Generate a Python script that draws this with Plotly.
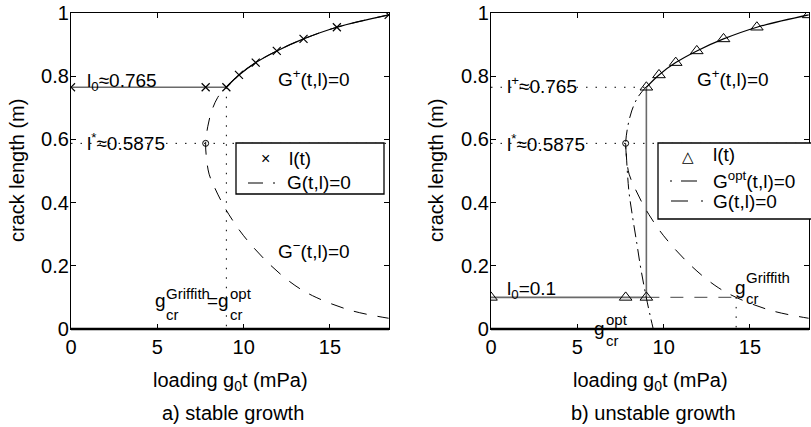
import plotly.graph_objects as go

# ---------------- data ----------------
# G(t,l)=0 curve, listed from top-right, through the leftmost point l*, to bottom-right
G_t = [18.4, 15.4, 13.47, 11.92, 10.7, 9.73, 9.0, 8.5, 8.15, 7.92, 7.80, 7.85, 8.0, 8.3, 8.7, 9.15, 10.0, 11.5, 12.97, 14.2, 16.26, 18.4]
G_l = [0.994, 0.955, 0.918, 0.880, 0.843, 0.804, 0.767, 0.733, 0.69, 0.64, 0.5875, 0.54, 0.49, 0.45, 0.405, 0.362, 0.295, 0.205, 0.138, 0.1, 0.058, 0.034]

# G^opt(t,l)=0 lower branch (panel b)
Gopt_t = [7.80, 7.84, 7.92, 8.0, 8.2, 8.45, 8.65, 8.85, 9.05, 9.25, 9.4]
Gopt_l = [0.5875, 0.55, 0.48, 0.43, 0.355, 0.27, 0.2, 0.14, 0.085, 0.035, 0.0]

# l(t) markers
la_t = [0, 7.8, 9.0, 9.73, 10.7, 11.92, 13.47, 15.4, 18.4]
la_l = [0.765, 0.765, 0.765, 0.804, 0.843, 0.880, 0.918, 0.955, 0.994]
lb_t = [0, 7.8, 9.0, 9.0, 9.73, 10.7, 11.92, 13.47, 15.4, 18.4]
lb_l = [0.1, 0.1, 0.1, 0.765, 0.804, 0.843, 0.880, 0.918, 0.955, 0.994]

l_star = 0.5875
t_star = 7.8
l_plus = 0.765
l0_b = 0.1
t_cr = 9.0
t_griffith_b = 14.2
T_MAX = 18.42

x_ticks = [0, 5, 10, 15]
y_ticks = [0, 0.2, 0.4, 0.6, 0.8, 1]
y_ticklabels = ["0", "0.2", "0.4", "0.6", "0.8", "1"]

FONT = "Liberation Sans, Arial, Helvetica, sans-serif"
FS = 19
FS_AX = 20
W, H = 811, 427
GRAY = "#6a6a6a"
DOT = "1.5px,8px"
DASH = "13px,11px"
DASHDOT = "12px,5px,2px,5px"

fig = go.Figure()

def add(tr, panel):
    if panel == "a":
        tr.update(xaxis="x", yaxis="y")
    else:
        tr.update(xaxis="x2", yaxis="y2")
    tr.update(showlegend=False)
    fig.add_trace(tr)

# ---------------- panel a ----------------
add(go.Scatter(x=[0, T_MAX], y=[l_star, l_star], mode="lines",
               line=dict(color="black", width=1, dash=DOT)), "a")
add(go.Scatter(x=[t_cr, t_cr], y=[l_plus, 0], mode="lines",
               line=dict(color="black", width=1, dash=DOT)), "a")
add(go.Scatter(x=la_t[:3], y=la_l[:3], mode="lines",
               line=dict(color=GRAY, width=1.6)), "a")
add(go.Scatter(x=la_t[2:], y=la_l[2:], mode="lines", line_shape="spline",
               line=dict(color="black", width=1.2)), "a")
add(go.Scatter(x=la_t, y=la_l, mode="markers", name="l(t)",
               marker=dict(symbol="x-thin-open", size=8, color="black",
                           line=dict(color="black", width=1.2))), "a")
add(go.Scatter(x=G_t, y=G_l, mode="lines", line_shape="spline", name="G(t,l)=0",
               line=dict(color="black", width=1, dash=DASH)), "a")
add(go.Scatter(x=[t_star], y=[l_star], mode="markers",
               marker=dict(symbol="circle-open", size=6, color="black",
                           line=dict(color="black", width=1))), "a")

# ---------------- panel b ----------------
add(go.Scatter(x=[0, T_MAX], y=[l_star, l_star], mode="lines",
               line=dict(color="black", width=1, dash=DOT)), "b")
add(go.Scatter(x=[0, t_cr], y=[l_plus, l_plus], mode="lines",
               line=dict(color="black", width=1, dash=DOT)), "b")
add(go.Scatter(x=[t_griffith_b, t_griffith_b], y=[l0_b, 0], mode="lines",
               line=dict(color="black", width=1, dash=DOT)), "b")
add(go.Scatter(x=[t_cr, t_griffith_b], y=[l0_b, l0_b], mode="lines",
               line=dict(color=GRAY, width=1.4, dash=DASH)), "b")
add(go.Scatter(x=lb_t[:4], y=lb_l[:4], mode="lines",
               line=dict(color=GRAY, width=1.6)), "b")
add(go.Scatter(x=lb_t[3:], y=lb_l[3:], mode="lines", line_shape="spline",
               line=dict(color="black", width=1.2)), "b")
add(go.Scatter(x=lb_t, y=lb_l, mode="markers", name="l(t)",
               marker=dict(symbol="triangle-up-open", size=11, color="black",
                           line=dict(color="black", width=1))), "b")
# G^opt: upper part of G between l+ and l*, then the optimal branch
up_t = [t for t, l in zip(G_t, G_l) if l_star < l <= l_plus + 0.005]
up_l = [l for l in G_l if l_star < l <= l_plus + 0.005]
add(go.Scatter(x=up_t + Gopt_t, y=up_l + Gopt_l, mode="lines", line_shape="spline",
               name="G<sup>opt</sup>(t,l)=0",
               line=dict(color="black", width=1, dash=DASHDOT)), "b")
lo_t = [t for t, l in zip(G_t, G_l) if l <= l_star]
lo_l = [l for l in G_l if l <= l_star]
add(go.Scatter(x=lo_t, y=lo_l, mode="lines", line_shape="spline", name="G(t,l)=0",
               line=dict(color="black", width=1, dash=DASH)), "b")
add(go.Scatter(x=[t_star], y=[l_star], mode="markers",
               marker=dict(symbol="circle-open", size=6, color="black",
                           line=dict(color="black", width=1))), "b")

# ---------------- axes ----------------
def px2x(px):
    return px / W

def py2y(py):
    return 1 - py / H

ydom = [py2y(329), py2y(13)]
xdom_a = [px2x(71), px2x(389)]
xdom_b = [px2x(491), px2x(809)]

axcommon = dict(showgrid=False, zeroline=False, showline=True, linecolor="black",
                linewidth=1.3, mirror="ticks", ticks="inside", ticklen=5,
                tickcolor="black", tickwidth=1, automargin=False,
                tickfont=dict(family=FONT, size=FS_AX, color="black"))
fig.update_layout(
    xaxis=dict(domain=xdom_a, range=[0, T_MAX], tickvals=x_ticks, anchor="y", **axcommon),
    yaxis=dict(domain=ydom, range=[0, 1], tickvals=y_ticks, ticktext=y_ticklabels,
               anchor="x", ticklabelstandoff=-3, **axcommon),
    xaxis2=dict(domain=xdom_b, range=[0, T_MAX], tickvals=x_ticks, anchor="y2", **axcommon),
    yaxis2=dict(domain=ydom, range=[0, 1], tickvals=y_ticks, ticktext=y_ticklabels,
                anchor="x2", ticklabelstandoff=-3, **axcommon),
)

shapes = []
# thicker bottom axis lines (as in the reference)
for dom in (xdom_a, xdom_b):
    shapes.append(dict(type="line", xref="paper", yref="paper", x0=dom[0], x1=dom[1],
                       y0=ydom[0], y1=ydom[0], line=dict(color="black", width=2.5)))

ann = []

def T(text, px, py, size=FS, xanchor="left", angle=0, family=FONT):
    ann.append(dict(text=text, x=px2x(px), y=py2y(py), xref="paper", yref="paper",
                    xanchor=xanchor, yanchor="middle", showarrow=False, textangle=angle,
                    borderpad=0,
                    font=dict(family=family, size=size, color="black")))

# ---------------- legends (boxes with sample glyphs) ----------------
def legend_box(x0, y0, x1, y1):
    shapes.append(dict(type="rect", xref="paper", yref="paper",
                       x0=px2x(x0), x1=px2x(x1), y0=py2y(y0), y1=py2y(y1),
                       fillcolor="white", line=dict(color="black", width=1.3), layer="above"))

def legend_line(x0, x1, y, dash):
    shapes.append(dict(type="line", xref="paper", yref="paper",
                       x0=px2x(x0), x1=px2x(x1), y0=py2y(y), y1=py2y(y),
                       line=dict(color="black", width=1.2, dash=dash), layer="above"))

# panel a legend
legend_box(236, 143, 384, 194)
T("×", 265, 158, 16, xanchor="center")
T("l(t)", 288, 158)
legend_line(248, 275, 183, "15px,10px,2px")
T("G(t,l)=0", 286, 182)
# panel b legend (runs past the right edge, as in the reference)
legend_box(658, 143, 830, 219)
T("△", 688, 157, 15, xanchor="center", family="DejaVu Sans")
T("l(t)", 712, 155)
legend_line(670, 697, 181, "2px,9px,16px")
T("G<sup>opt</sup>(t,l)=0", 712, 180)
legend_line(671, 705, 201, "17px,13px,2px")
T("G(t,l)=0", 712, 201)

# ---------------- text ----------------
SS = 15
# panel a
T("l<sub>0</sub>≈0.765", 86, 82)
T("G<sup>+</sup>(t,l)=0", 277, 78)
T("l<sup>*</sup>≈0.5875", 86, 142)
T("G<sup>−</sup>(t,l)=0", 277, 250)
T("g", 154, 300)
T("Griffith", 165, 293, SS)
T("cr", 165, 314, SS)
T("=g", 206, 300)
T("opt", 229, 293, SS)
T("cr", 229, 314, SS)
# panel b
T("l<sup>+</sup>≈0.765", 506, 85)
T("l<sup>*</sup>≈0.5875", 506, 143)
T("G<sup>+</sup>(t,l)=0", 696, 78)
T("l<sub>0</sub>=0.1", 506, 290)
T("g", 593, 328)
T("opt", 605, 319, SS)
T("cr", 605, 340, SS)
T("g", 734, 287)
T("Griffith", 745, 277, SS)
T("cr", 745, 298, SS)

# axis titles and captions
for cx, cap in ((230, "a) stable growth"), (650, "b) unstable growth")):
    T("loading g<sub>0</sub>t (mPa)", cx, 381, FS_AX, xanchor="center")
    T(cap, cx + 3, 413, FS_AX, xanchor="center")
T("crack length (m)", 17, 171, FS_AX, xanchor="center", angle=-90)
T("crack length (m)", 436, 171, FS_AX, xanchor="center", angle=-90)

fig.update_layout(
    width=W, height=H, margin=dict(l=0, r=0, t=0, b=0),
    paper_bgcolor="white", plot_bgcolor="white",
    font=dict(family=FONT, size=FS, color="black"),
    annotations=ann, shapes=shapes, showlegend=False,
)

fig.write_html("out.html")
